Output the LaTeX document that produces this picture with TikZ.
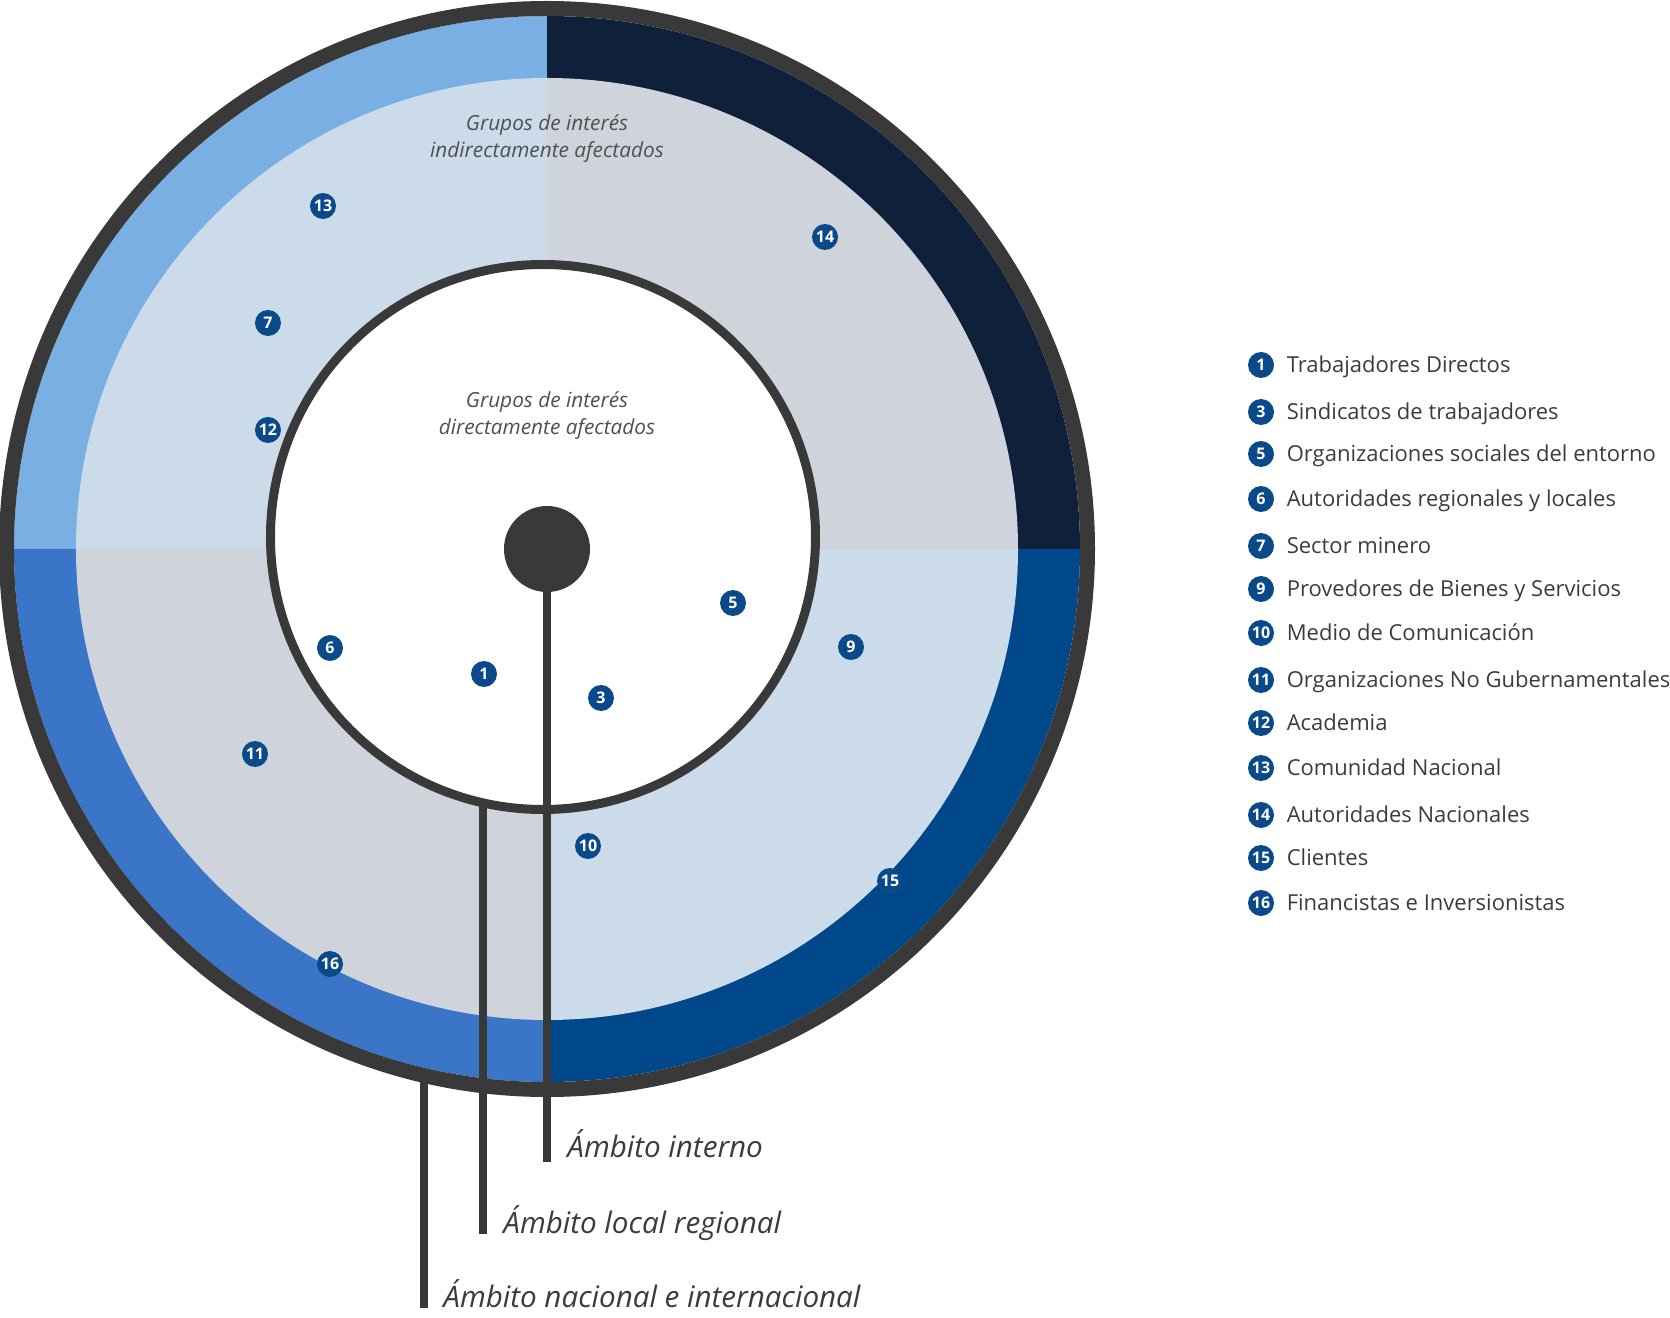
\documentclass[tikz,border=0pt]{standalone}
\usepackage{fontspec}
\setmainfont{Open Sans}
\usepackage{tikz}
\usetikzlibrary{positioning}
\definecolor{ringgray}{HTML}{393939}
\definecolor{bandNW}{HTML}{7AAFE3}
\definecolor{bandNE}{HTML}{0F203B}
\definecolor{bandSE}{HTML}{00488A}
\definecolor{bandSW}{HTML}{3A75C8}
\definecolor{paleblue}{HTML}{CBDBE9}
\definecolor{palegray}{HTML}{CFD3DB}
\definecolor{badgeblue}{HTML}{0A4A8A}
\definecolor{textgray}{HTML}{3C3C3C}
\tikzset{
  badge/.style={circle, fill=badgeblue, text=white, inner sep=0pt, minimum size=13pt,
    font=\fontsize{8}{8}\selectfont\bfseries},
  keytext/.style={inner sep=0pt, text=textgray, font=\fontsize{11}{12}\selectfont},
  note/.style={align=center, text=textgray!90, font=\fontsize{10.4}{13.5}\selectfont\itshape},
  leader/.style={draw=ringgray, line width=3.6pt},
  scopelabel/.style={anchor=base west, inner sep=0pt, text=textgray,
    font=\fontsize{14.8}{15}\selectfont\itshape}
}

\begin{document}
\begin{tikzpicture}[x=0.5pt, y=0.5pt]
\useasboundingbox (-547,-768) rectangle (1123,549);
% outer band, one colour per quadrant
\fill[bandNE] (0,0) -- (0:533) arc[start angle=0, end angle=90, radius=533] -- cycle;
\fill[bandNW] (0,0) -- (90:533) arc[start angle=90, end angle=180, radius=533] -- cycle;
\fill[bandSW] (0,0) -- (180:533) arc[start angle=180, end angle=270, radius=533] -- cycle;
\fill[bandSE] (0,0) -- (270:533) arc[start angle=270, end angle=360, radius=533] -- cycle;
% indirectly affected zone
\fill[palegray] (0,0) -- (0:471) arc[start angle=0, end angle=90, radius=471] -- cycle;
\fill[paleblue] (0,0) -- (90:471) arc[start angle=90, end angle=180, radius=471] -- cycle;
\fill[palegray] (0,0) -- (180:471) arc[start angle=180, end angle=270, radius=471] -- cycle;
\fill[paleblue] (0,0) -- (270:471) arc[start angle=270, end angle=360, radius=471] -- cycle;
% directly affected zone and rings
\fill[white] (-4,12) circle (272.5);
\draw[ringgray, line width=4.5pt] (-4,12) circle (272.5);
\draw[ringgray, line width=7.5pt] (0,0) circle (540.5);

% leaders down to the scope labels
\coordinate (endInt) at (0,-613);
\coordinate (ringLoc) at (-64,-254);
\coordinate (endLoc) at (-64,-685);
\coordinate (ringNat) at (-123,-530);
\coordinate (endNat) at (-123,-759);
\draw[leader] (0,0) -- (endInt);
\draw[leader] (ringLoc) -- (endLoc);
\draw[leader] (ringNat) -- (endNat);
\node[circle, fill=ringgray, minimum size=43pt, inner sep=0pt] (hub) at (0,0) {};

\node[scopelabel] (lblInt) at (20,-608) {Ámbito interno};
\node[scopelabel] (lblLoc) at (-44,-684) {Ámbito local regional};
\node[scopelabel] (lblNat) at (-104,-758) {Ámbito nacional e internacional};

\node[note] (indirect) at (0,410) {Grupos de interés\\indirectamente afectados};
\node[note] (direct) at (0,133) {Grupos de interés\\directamente afectados};

% stakeholder badges on the wheel
\foreach \num/\bx/\by in {13/-224/343, 14/278/312, 7/-279/226, 12/-279/119,
    5/186/-54, 9/304/-98, 6/-217/-99, 1/-63/-125, 3/54/-149,
    11/-292/-205, 10/41/-297, 15/343/-332, 16/-217/-415}
  \node[badge] (b\num) at (\bx,\by) {\num};

% legend
\foreach \num/\ky/\lbl in {1/184/Trabajadores Directos, 3/137/Sindicatos de trabajadores,
    5/95/Organizaciones sociales del entorno, 6/50/Autoridades regionales y locales,
    7/3/Sector minero, 9/-40/Provedores de Bienes y Servicios,
    10/-84/Medio de Comunicación, 11/-131/Organizaciones No Gubernamentales,
    12/-174/Academia, 13/-219/Comunidad Nacional, 14/-266/Autoridades Nacionales,
    15/-309/Clientes, 16/-354/Financistas e Inversionistas}{
  \node[badge] (key\num) at (714,\ky) {\num};
  \node[keytext, base right=6pt of key\num, yshift=-1pt] (txt\num) {\lbl};
}
\end{tikzpicture}
\end{document}
